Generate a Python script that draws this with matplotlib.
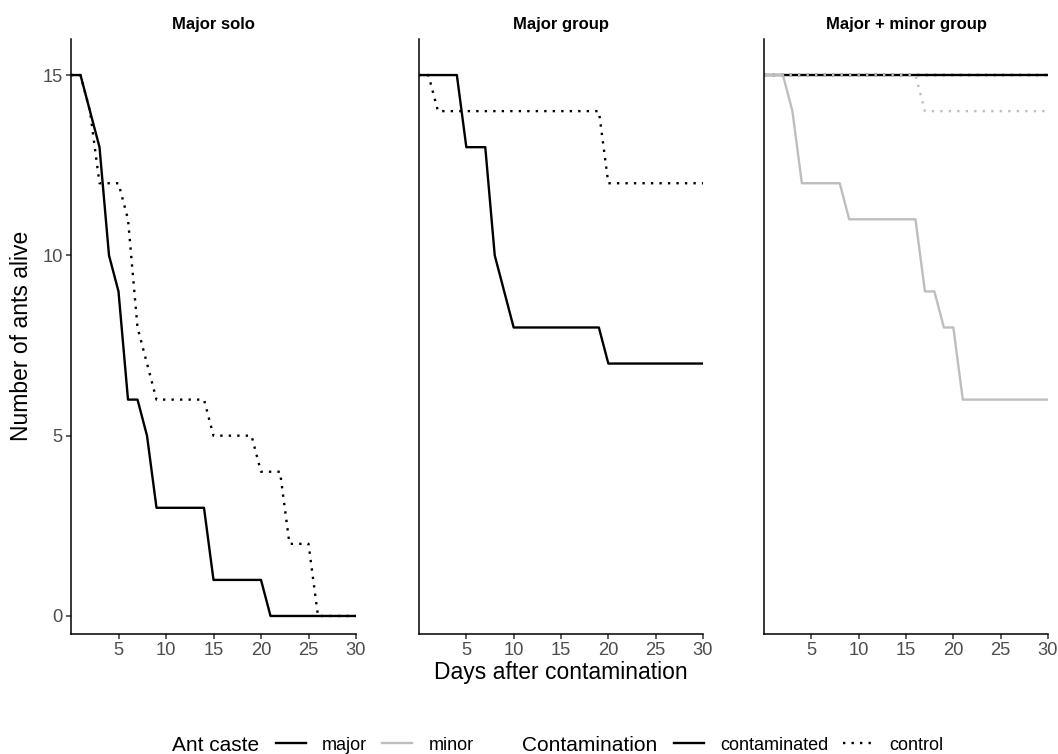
import matplotlib as mpl
mpl.use('Agg')
import matplotlib.pyplot as plt
from matplotlib.lines import Line2D

mpl.rcParams['font.family'] = ['Liberation Sans', 'DejaVu Sans']

# days 0..30, number of ants alive on each day
days = list(range(31))

solo_major_contaminated = [15, 15, 14, 13, 10, 9, 6, 6, 5, 3, 3, 3, 3, 3, 3, 1,
                           1, 1, 1, 1, 1, 0, 0, 0, 0, 0, 0, 0, 0, 0, 0]
solo_major_control = [15, 15, 14, 12, 12, 12, 11, 8, 7, 6, 6, 6, 6, 6, 6, 5,
                      5, 5, 5, 5, 4, 4, 4, 2, 2, 2, 0, 0, 0, 0, 0]

group_major_contaminated = [15, 15, 15, 15, 15, 13, 13, 13, 10, 9, 8, 8, 8, 8, 8, 8,
                            8, 8, 8, 8, 7, 7, 7, 7, 7, 7, 7, 7, 7, 7, 7]
group_major_control = [15, 15, 14, 14, 14, 14, 14, 14, 14, 14, 14, 14, 14, 14, 14, 14,
                       14, 14, 14, 14, 12, 12, 12, 12, 12, 12, 12, 12, 12, 12, 12]

mixed_major_contaminated = [15] * 31
mixed_major_control = [15] * 31
mixed_minor_contaminated = [15, 15, 15, 14, 12, 12, 12, 12, 12, 11, 11, 11, 11, 11, 11, 11,
                            11, 9, 9, 8, 8, 6, 6, 6, 6, 6, 6, 6, 6, 6, 6]
mixed_minor_control = [15, 15, 15, 15, 15, 15, 15, 15, 15, 15, 15, 15, 15, 15, 15, 15,
                       15, 14, 14, 14, 14, 14, 14, 14, 14, 14, 14, 14, 14, 14, 14]

panel_titles = ['Major solo', 'Major group', 'Major + minor group']
x_ticks = [5, 10, 15, 20, 25, 30]
y_ticks = [0, 5, 10, 15]

GRAY = '#BEBEBE'
LW = 1.7
DOT = (0, (1, 2.6))

# (values, colour, linestyle) per panel, drawn in this order
panels = [
    [(solo_major_contaminated, 'black', '-'), (solo_major_control, 'black', DOT)],
    [(group_major_contaminated, 'black', '-'), (group_major_control, 'black', DOT)],
    [(mixed_major_contaminated, 'black', '-'), (mixed_major_control, 'black', DOT),
     (mixed_minor_contaminated, GRAY, '-'), (mixed_minor_control, GRAY, DOT)],
]

W, H = 1058, 754
fig = plt.figure(figsize=(W / 100, H / 100), dpi=100)

lefts = [71, 419, 764]
widths = [285, 284, 284]
top, bottom = 39, 634

for i in range(3):
    ax = fig.add_axes([lefts[i] / W, 1 - bottom / H, widths[i] / W, (bottom - top) / H])
    for vals, col, ls in panels[i]:
        ax.plot(days, vals, color=col, linestyle=ls, lw=LW)
    ax.set_xlim(0, 30)
    ax.set_ylim(-0.5, 16)
    for s in ['top', 'right']:
        ax.spines[s].set_visible(False)
    for s in ['left', 'bottom']:
        ax.spines[s].set_linewidth(1.1)
        ax.spines[s].set_color('black')
    ax.set_xticks(x_ticks)
    ax.tick_params(axis='both', length=3.6, width=1.1, color='#333333',
                   labelsize=13.2, labelcolor='#4D4D4D', pad=2.5)
    if i == 0:
        ax.set_yticks(y_ticks)
    else:
        ax.set_yticks([])
        ax.tick_params(axis='y', left=False, labelleft=False)
    ax.set_title(panel_titles[i], fontsize=12, fontweight='bold', pad=7)

fig.text(561 / W, 1 - 679 / H, 'Days after contamination', fontsize=16.5,
         ha='center', va='baseline')
fig.text(22 / W, 1 - 336 / H, 'Number of ants alive', fontsize=16.5,
         rotation=90, ha='center', va='center')

# legends at the bottom
leg_y = 1 - 745 / H
fig.text(172 / W, 1 - 751 / H, 'Ant caste', fontsize=15, va='baseline')
fig.text(522 / W, 1 - 751 / H, 'Contamination', fontsize=15, va='baseline')

caste_handles = [Line2D([], [], color='black', lw=LW), Line2D([], [], color=GRAY, lw=LW)]
cont_handles = [Line2D([], [], color='black', lw=LW), Line2D([], [], color='black', lw=LW, linestyle=DOT)]

legkw = dict(ncol=2, frameon=False, loc='center left', fontsize=13,
             handlelength=1.67, handletextpad=0.89, columnspacing=0.83,
             borderpad=0, borderaxespad=0)
fig.legend(caste_handles, ['major', 'minor'], bbox_to_anchor=(276 / W, leg_y), **legkw)
fig.legend(cont_handles, ['contaminated', 'control'], bbox_to_anchor=(674 / W, leg_y), **legkw)

fig.savefig('out.png', dpi=100)
